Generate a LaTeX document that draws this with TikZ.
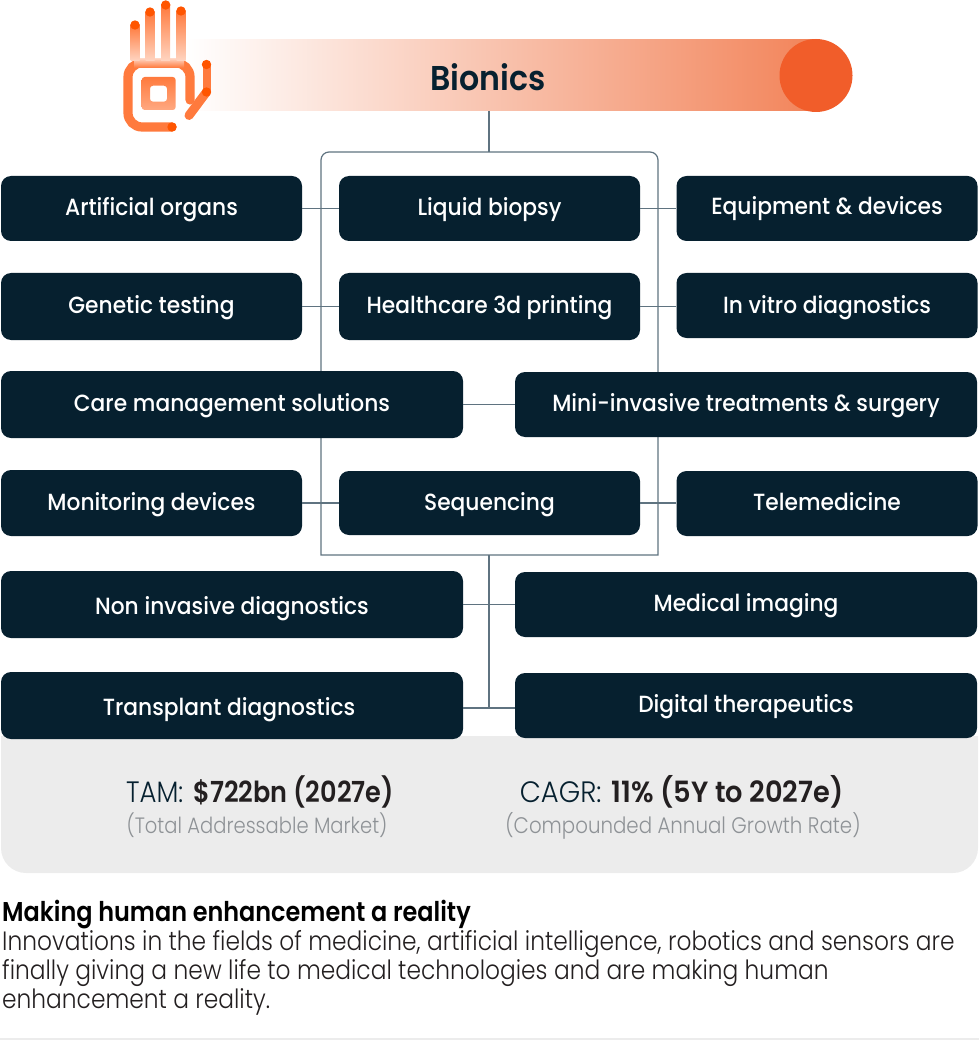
\documentclass[tikz,border=0pt]{standalone}
\usepackage{fontspec}
\setmainfont{Poppins}
\newfontfamily\bx[FakeStretch=0.93]{Poppins Medium}
\newfontfamily\bt[FakeStretch=0.92]{Poppins SemiBold}
\newfontfamily\bg[FakeStretch=0.88,BoldFont={Poppins SemiBold}]{Poppins Light}
\newfontfamily\bgw[FakeStretch=0.93,BoldFont={Poppins SemiBold}]{Poppins Light}
\definecolor{navy}{HTML}{06202F}
\definecolor{wire}{HTML}{5F7380}
\definecolor{org}{HTML}{F15D2A}
\definecolor{orgb}{HTML}{F2845A}
\definecolor{dot}{HTML}{FF5500}
\definecolor{handc}{HTML}{FF7A3D}
\definecolor{handl}{HTML}{FFD5C2}
\definecolor{panel}{HTML}{ECECEC}
\definecolor{ink}{HTML}{231F20}
\definecolor{sub}{HTML}{8E9296}
\tikzset{
  pill/.style={fill=navy,rounded corners=10pt,inner sep=0pt,text=white,font=\bx\fontsize{23.4}{26}\selectfont,text height=17pt,text depth=4pt},
  small/.style={pill,minimum width=301pt,minimum height=65pt},
  wide/.style={pill,minimum width=462pt,minimum height=66pt},
  wirel/.style={draw=wire,line width=1.2pt},
  hdot/.style={fill=dot,draw=none},
  stat/.style={font=\bg\fontsize{29.5}{32}\selectfont,text=ink,inner sep=0pt},
  statw/.style={font=\bgw\fontsize{29.5}{32}\selectfont,text=ink,inner sep=0pt},
  substat/.style={font=\bg\fontsize{22.2}{24}\selectfont,text=sub,inner sep=0pt},
  para/.style={font=\bg\fontsize{26.5}{29}\selectfont,text=ink,inner sep=0pt,anchor=base west},
  fingerfade/.style={top color=handc,bottom color=handl},
  palmfade/.style={top color=handl,bottom color=handc}
}
\begin{document}
\begin{tikzpicture}[x=1pt,y=-1pt]
\useasboundingbox (0,0) rectangle (979,1040);
% band
\shade[left color=white,right color=orgb,middle color=orgb!50!white] (186,40) rectangle (816,111);
\fill[org] (816,75.5) circle (36.5);
\node[font=\bt\fontsize{34.4}{36}\selectfont,text=navy,inner sep=0pt] (title) at (488,77) {Bionics};
\coordinate (bandfoot) at (489,111);
% frame
\coordinate (ftop) at (489,152);
\coordinate (fbot) at (489,555);
\coordinate (fend) at (489,708);
\draw[wirel] (ftop) -- (650,152) arc[start angle=-90,end angle=0,radius=8] -- (658,555) -- (fbot) -- (321,555) -- (321,160) arc[start angle=180,end angle=270,radius=8] -- (ftop);
% gray panel
\fill[panel] (1,736) -- (978,736) -- (978,848) arc[start angle=0,end angle=90,radius=25] -- (26,873) arc[start angle=90,end angle=180,radius=25] -- cycle;
% connectors
\draw[wirel] (bandfoot) -- (ftop);
\draw[wirel] (fbot) -- (fend);
% nodes
\node[small,text height=19pt] (a1) at (151.5,208.5) {Artificial organs};
\node[small,text height=19pt] (a2) at (489.5,208.5) {Liquid biopsy};
\node[small,text height=17pt] (a3) at (827,208.5) {Equipment \& devices};
\node[small,minimum height=67pt] (b1) at (151.5,306.5) {Genetic testing};
\node[small,minimum height=67pt] (b2) at (489.5,306.5) {Healthcare 3d printing};
\node[small,text height=20pt] (b3) at (827,305.5) {In vitro diagnostics};
\node[wide,minimum height=67pt] (c1) at (232,404.5) {Care management solutions};
\node[wide,minimum height=65pt] (c2) at (746,404.5) {Mini-invasive treatments \& surgery};
\node[small,minimum height=66pt,text height=18pt] (d1) at (151.5,503) {Monitoring devices};
\node[small,minimum height=64pt,text height=18pt] (d2) at (489.5,503) {Sequencing};
\node[small] (d3) at (827,503.5) {Telemedicine};
\node[wide,minimum height=67pt,text height=23pt] (e1) at (232,604.5) {Non invasive diagnostics};
\node[wide,minimum height=65pt] (e2) at (746,604.5) {Medical imaging};
\node[wide,minimum height=67pt,text height=23pt] (f1) at (232,705.5) {Transplant diagnostics\hspace*{6pt}};
\node[wide,minimum height=65pt,text height=17pt] (f2) at (746,705.5) {Digital therapeutics};
\draw[wirel] (a1.east) -- (a2.west);
\draw[wirel] (a2.east) -- (a3.west);
\draw[wirel] (b1.east) -- (b2.west);
\draw[wirel] (b2.east) -- (b2.east -| b3.west);
\draw[wirel] (c1.east) -- (c1.east -| c2.west);
\draw[wirel] (d1.east) -- (d1.east -| d2.west);
\draw[wirel] (d2.east) -- (d2.east -| d3.west);
\draw[wirel] (e1.east) -- (e2.west);
\draw[wirel] (fend -| f1.east) -- (fend -| f2.west);
% stats
\node[stat,anchor=base] (tam) at (260,802) {\textcolor{navy}{TAM:}\kern3pt{} {\fontsize{29}{32}\selectfont\textbf{\$722bn (2027e)}}};
\node[substat,anchor=base] (tams) at (257,833) {(Total Addressable Market)};
\node[statw,anchor=base] (cagr) at (681.5,802) {\textcolor{navy}{CAGR:}\kern3pt{} {\fontsize{29.25}{32}\selectfont\textbf{11\% (5Y to 2027e)}}};
\node[substat,font=\bg\fontsize{22.5}{24}\selectfont,anchor=base] (cagrs) at (683,833) {(Compounded Annual Growth Rate)};
% paragraph
\node[para,font=\bg\fontsize{27.2}{29}\selectfont,text=black] (p0) at (2,921) {\textbf{Making human enhancement a reality}};
\node[para] (p1) at (2,950) {Innovations in the fields of medicine, artificial intelligence, robotics and sensors are};
\node[para] (p2) at (2,979) {finally giving a new life to medical technologies and are making human};
\node[para] (p3) at (2,1008) {enhancement a reality.};
\fill[panel] (0,1037.5) rectangle (979,1039.5);
% hand
\fill[white] (133,66) rectangle (185,122);
\draw[handc,line width=9.2pt,line cap=round] (172,127) -- (142,127) arc[start angle=90,end angle=180,radius=14] -- (128,77) arc[start angle=180,end angle=270,radius=14] -- (176,63) arc[start angle=-90,end angle=0,radius=14] -- (190,100);
\shade[palmfade] (134,58.4) rectangle (184,67.6);
\shade[fingerfade] (130.5,25) rectangle (139.5,61);
\shade[fingerfade] (145.5,12) rectangle (154.5,61);
\shade[fingerfade] (161,5) rectangle (170,61);
\shade[fingerfade] (176.5,11) rectangle (185.5,61);
\draw[handc,line width=8pt] (206.5,64) -- (206.5,92);
\draw[handc,line width=9pt,line cap=round] (206.5,92) -- (189,115.5);
\shade[even odd rule,rounded corners=3pt,top color=handc,bottom color=handc!65!white] (141.7,77) rectangle (175.7,110) (150,85.7) rectangle (167,101.7);
\foreach \p in {(135,25),(150,12),(165.7,5),(181,11),(172,127),(206.5,64.5),(206.5,92)}{\fill[hdot] \p circle (4.7);}
\end{tikzpicture}
\end{document}
